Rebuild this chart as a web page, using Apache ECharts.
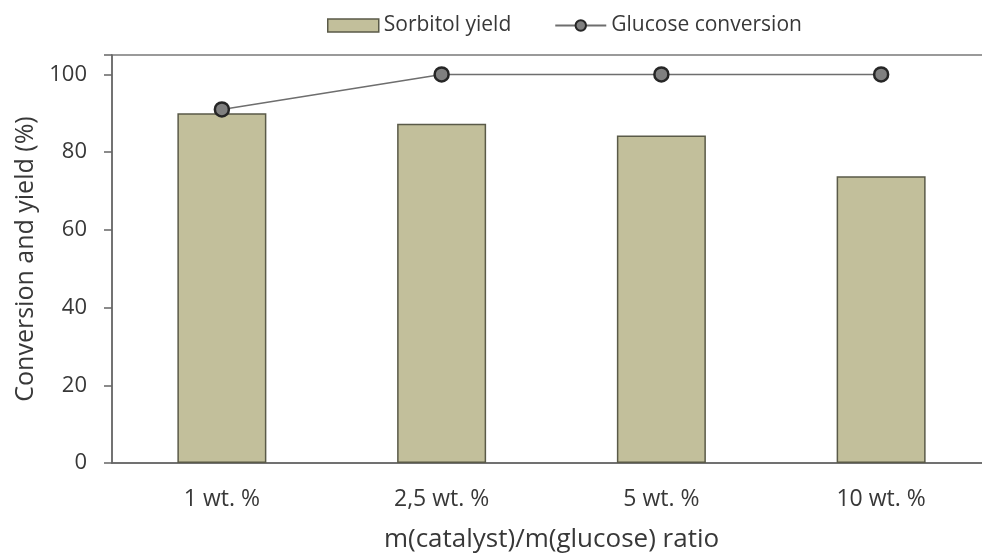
<!DOCTYPE html>
<html><head><meta charset="utf-8">
<script src="https://cdn.jsdelivr.net/npm/echarts@6/dist/echarts.min.js"></script>
<style>html,body{margin:0;padding:0;background:#fff}#c{width:982px;height:554px}</style>
</head><body><div id="c"></div>
<script>
const categories = ['1 wt. %', '2,5 wt. %', '5 wt. %', '10 wt. %'];
const sorbitolYield = [90, 87.3, 84.3, 73.8];
const glucoseConversion = [91, 100, 100, 100];
const yTicks = [0, 20, 40, 60, 80, 100];

const chart = echarts.init(document.getElementById('c'));
const font = 'Open Sans';
const txt = '#383838';
chart.setOption({
  animation: false,
  grid: { left: 112, top: 55, right: -9, bottom: 91, show: true, borderColor: '#7a7a7a', borderWidth: 1.5,
    containLabel: false, outerBoundsMode: 'none' },
  legend: {
    top: 10, left: 322, itemGap: 43,
    textStyle: { fontFamily: font, fontSize: 21, color: txt },
    data: [
      { name: 'Sorbitol yield', icon: 'rect', itemStyle: { color: '#c2bf9b', borderColor: '#5a5a48', borderWidth: 1.5 } },
      { name: 'Glucose conversion' }
    ],
    itemWidth: 51, itemHeight: 13
  },
  xAxis: {
    type: 'category', data: categories,
    name: 'm(catalyst)/m(glucose) ratio', nameLocation: 'middle', nameGap: 64,
    nameTextStyle: { fontFamily: font, fontSize: 26, color: txt },
    axisLine: { lineStyle: { color: '#666', width: 1.5 } },
    axisTick: { show: false },
    axisLabel: { fontFamily: font, fontSize: 23, color: txt, margin: 25 }
  },
  yAxis: {
    type: 'value', min: 0, max: 105, interval: 20,
    name: 'Conversion and yield (%)', nameLocation: 'middle', nameGap: 72,
    nameTextStyle: { fontFamily: font, fontSize: 25, color: txt },
    axisLine: { show: true, lineStyle: { color: '#666', width: 1.5 } },
    axisTick: { show: true, length: 8, lineStyle: { color: '#666', width: 1.5 } },
    axisLabel: { fontFamily: font, fontSize: 22, color: txt, margin: 25,
      formatter: v => yTicks.includes(v) ? String(v) : '' },
    splitLine: { show: false }
  },
  series: [
    { name: 'Sorbitol yield', type: 'bar', data: sorbitolYield, barWidth: 89,
      itemStyle: { color: '#c2bf9b', borderColor: '#5a5a48', borderWidth: 1.5 } },
    { name: 'Glucose conversion', type: 'line', data: glucoseConversion,
      symbol: 'circle', symbolSize: 14,
      lineStyle: { color: '#6e6e6e', width: 1.5 },
      itemStyle: { color: '#808080', borderColor: '#262626', borderWidth: 2.5 } }
  ]
});
</script></body></html>
